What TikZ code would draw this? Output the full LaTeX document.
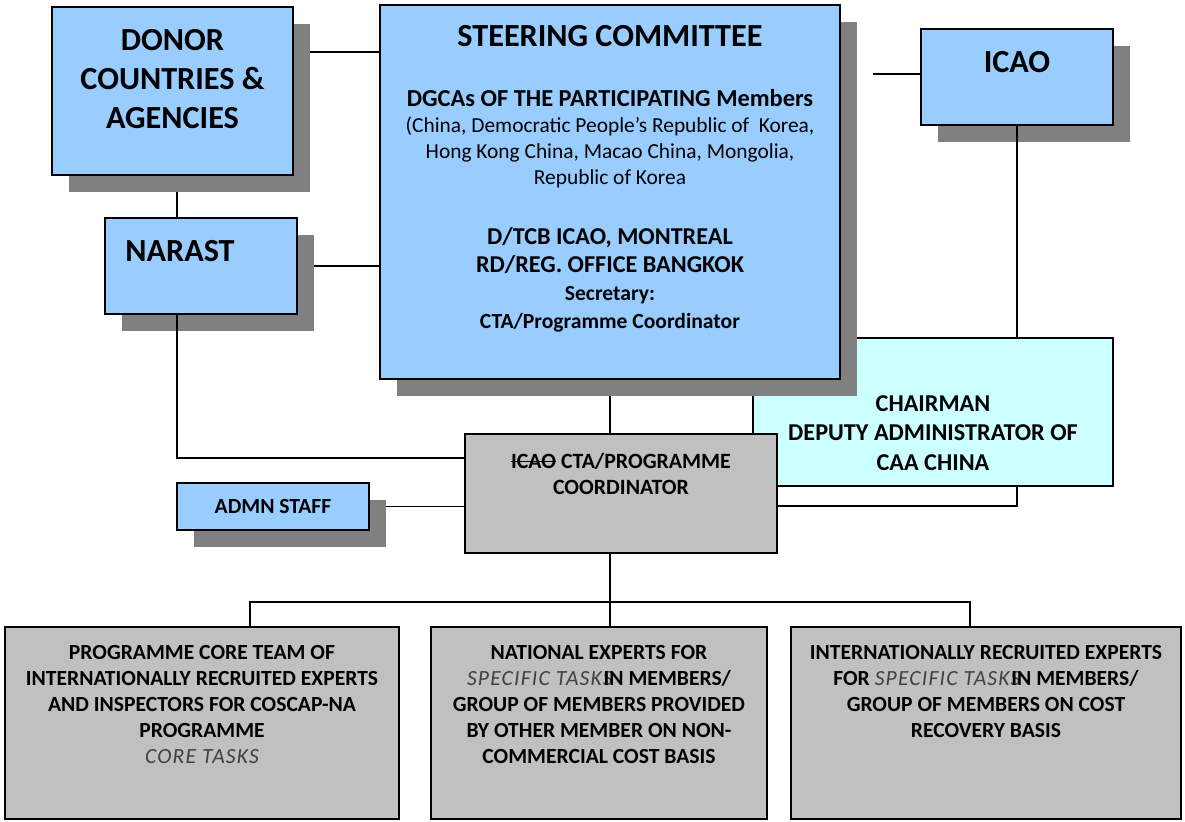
\documentclass[tikz,border=0pt]{standalone}
\usepackage{fontspec}
\setmainfont{Carlito}
\usetikzlibrary{shadows}
\definecolor{boxblue}{HTML}{99CCFF}
\definecolor{chaircyan}{HTML}{CCFFFF}
\definecolor{boxgrey}{HTML}{C0C0C0}
\definecolor{shadowgrey}{HTML}{808080}
\pgfdeclarelayer{background}
\pgfsetlayers{background,main}
\newcommand{\lightital}[1]{{\mdseries\itshape\addfontfeatures{LetterSpace=5.5}\color{black!75}#1}}
\newcommand{\spectasks}{\lightital{SPECIFIC TASKS}\kern-4.5pt}
\newcommand{\struck}[1]{\setbox0\hbox{#1}\rlap{\rule[0.3em]{\wd0}{0.07em}}\box0\relax}

\begin{document}
\begin{tikzpicture}[x=0.5pt,y=-0.5pt]
\tikzstyle{every node}+=[inner sep=0pt]
\tikzstyle{every label}+=[inner sep=0pt]
\tikzstyle{boxshadow}=[general shadow={fill=shadowgrey, shadow xshift=8.25pt, shadow yshift=-8.25pt}]
\tikzstyle{bluebox}=[draw=black, line width=1pt, fill=boxblue, boxshadow]
\tikzstyle{greybox}=[draw=black, line width=1pt, fill=boxgrey]
\tikzstyle{bigtext}=[align=center, font=\fontsize{16.1}{19.5}\selectfont\bfseries]
\tikzstyle{midtext}=[align=center, font=\fontsize{12.1}{14.75}\selectfont\bfseries]
\tikzstyle{smalltext}=[align=center, font=\fontsize{10.8}{13}\selectfont\bfseries]
\tikzstyle{conn}=[line width=0.75pt]
\useasboundingbox (0,0) rectangle (1185,821);

\node [draw=black, line width=1pt, fill=chaircyan, minimum width=180pt, minimum height=74pt,
  label={[midtext, below=29pt]north:{CHAIRMAN\\DEPUTY ADMINISTRATOR OF\\CAA CHINA}}] (chair) at (933,412) {};
\node [bluebox, minimum width=230pt, minimum height=187pt,
  label={[bigtext, below=10.5pt]north:{STEERING COMMITTEE}},
  label={[align=center, font=\fontsize{10.7}{13}\selectfont, below=42.5pt]north:{{\fontsize{12.2}{13}\selectfont\bfseries DGCAs OF THE PARTICIPATING Members}\\(China, Democratic People’s Republic of~ Korea,\\Hong Kong China, Macao China, Mongolia,\\Republic of Korea}},
  label={[align=center, font=\fontsize{12.1}{14}\selectfont\bfseries, below=111.5pt]north:{D/TCB ICAO, MONTREAL\\RD/REG. OFFICE BANGKOK\\{\fontsize{10.8}{14}\selectfont Secretary:}\\{\fontsize{10.8}{14}\selectfont CTA/Programme Coordinator}}}] (sc) at (610,192) {};
\node [bluebox, minimum width=96pt, minimum height=48pt,
  label={[bigtext, below=11.5pt]north:{ICAO}}] (icao) at (1017,77) {};
\node [bluebox, minimum width=120.5pt, minimum height=84pt,
  label={[bigtext, below=11.5pt]north:{DONOR\\COUNTRIES \&\\AGENCIES}}] (donor) at (172.5,91) {};
\node [bluebox, minimum width=96pt, minimum height=48pt,
  label={[bigtext, below=11.5pt, xshift=-10.5pt]north:{NARAST}}] (narast) at (201,266) {};
\node [greybox, minimum width=156pt, minimum height=59.5pt,
  label={[align=center, font=\fontsize{10.9}{13}\selectfont\bfseries, below=10pt]north:{\struck{ICAO} CTA/PROGRAMME\\COORDINATOR}}] (cta) at (621,493.5) {};
\node [bluebox, minimum width=96pt, minimum height=23.5pt, font=\fontsize{10.8}{12}\selectfont\bfseries] (admn) at (273,506.5) {ADMN STAFF};
\node [greybox, minimum width=197pt, minimum height=96pt,
  label={[smalltext, below=9.5pt]north:{PROGRAMME CORE TEAM OF\\INTERNATIONALLY RECRUITED EXPERTS\\AND INSPECTORS FOR COSCAP-NA\\PROGRAMME\\\lightital{CORE TASKS}}}] (core) at (202,723) {};
\node [greybox, minimum width=168pt, minimum height=96pt,
  label={[smalltext, below=9.5pt]north:{NATIONAL EXPERTS FOR\\\spectasks IN MEMBERS/\\GROUP OF MEMBERS PROVIDED\\BY OTHER MEMBER ON NON-\\COMMERCIAL COST BASIS}}] (natl) at (599,723) {};
\node [greybox, minimum width=195pt, minimum height=96pt,
  label={[smalltext, below=9.5pt]north:{INTERNATIONALLY RECRUITED EXPERTS\\FOR \spectasks IN MEMBERS/\\GROUP OF MEMBERS ON COST\\RECOVERY BASIS}}] (recov) at (986,723) {};

\coordinate (nx) at ([xshift=-12pt]narast.north);
\coordinate (icaoend) at (873,74);
\coordinate (bushub) at (610,602);

\begin{pgfonlayer}{background}
\draw [conn] ([yshift=19.5pt]donor.east) -- ([yshift=19.5pt]donor.east -| sc.west);
\draw [conn] (narast.east) -- (narast.east -| sc.west);
\draw [conn] (nx) -- (nx |- donor.south);
\draw [conn] (sc.south) -- (sc.south |- cta.north);
\draw [conn] (admn.east) -- (admn.east -| cta.west);
\end{pgfonlayer}
\draw [conn] (nx |- narast.south) |- ([yshift=17.75pt]cta.west);
\draw [conn] (icaoend) -- (icaoend -| icao.west);
\draw [conn] (icao.south) -- (icao.south |- chair.north);
\draw [conn] (icao.south |- chair.south) |- ([yshift=-6.25pt]cta.east);
\draw [conn] (sc.south |- cta.south) -- (sc.south |- natl.north);
\draw [conn] ([xshift=24pt]core.north) |- (bushub) -| ([xshift=-8pt]recov.north);
\end{tikzpicture}
\end{document}
